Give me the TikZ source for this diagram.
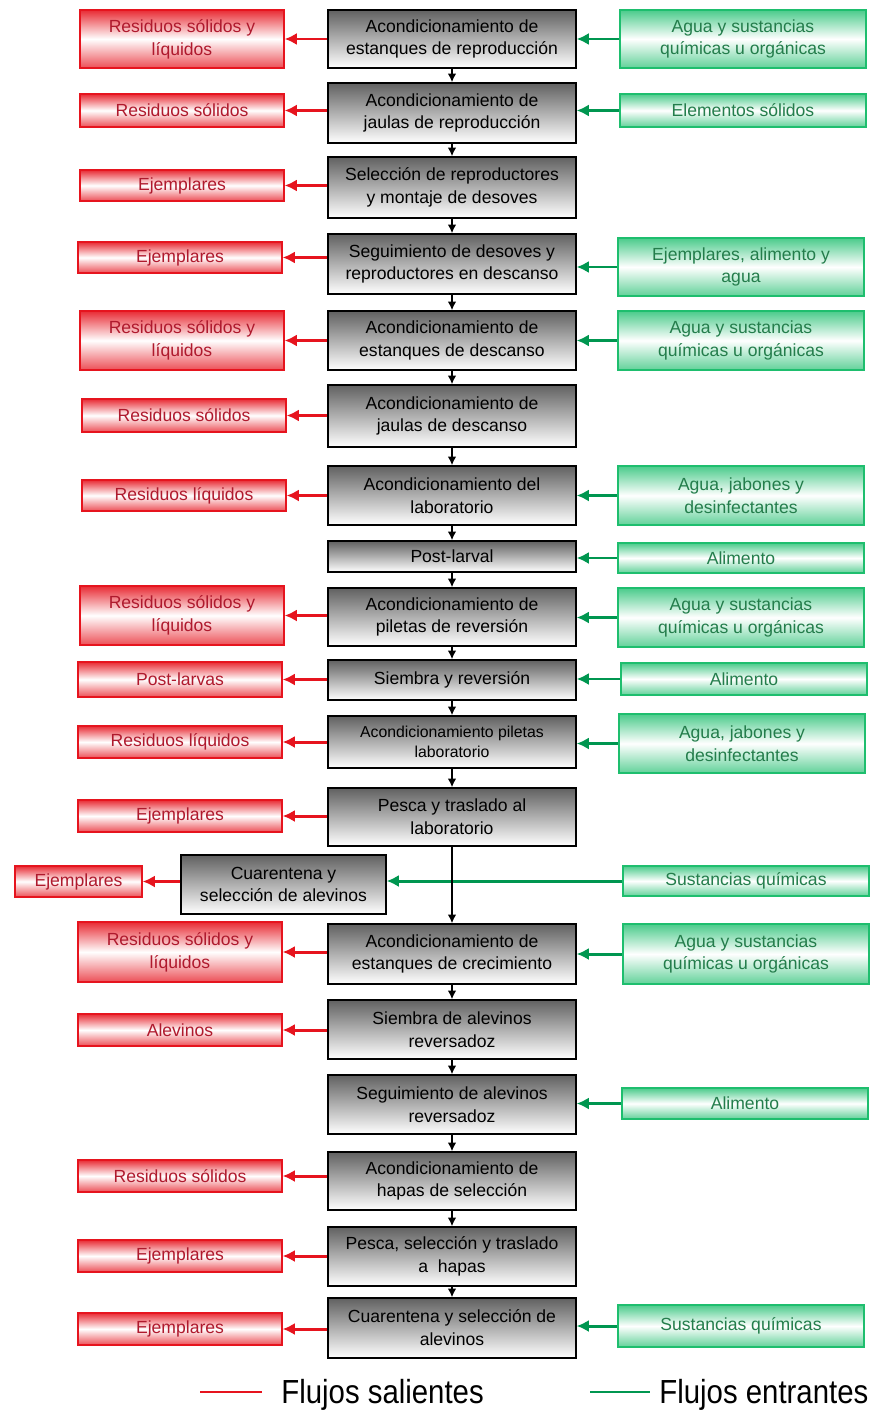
\documentclass[tikz,border=0pt]{standalone}
\usepackage{fontspec}
\setmainfont{Liberation Sans}
\usetikzlibrary{arrows.meta}

\definecolor{rojo}{RGB}{230,20,30}
\definecolor{rojotexto}{RGB}{175,25,45}
\definecolor{verde}{RGB}{30,190,110}
\definecolor{verdeflecha}{RGB}{0,150,80}
\definecolor{verdetexto}{RGB}{35,125,75}

\tikzset{
    proceso/.style={draw=black,line width=0.8pt,align=center,inner sep=1pt,
        minimum width=4.96cm,top color=black!62,bottom color=white,
        font=\fontsize{10}{13}\selectfont},
    salida/.style={draw=rojo,line width=0.8pt,align=center,inner sep=1pt,
        minimum width=4.08cm,top color=rojo!90,bottom color=rojo!75,middle color=white,
        text=rojotexto,font=\fontsize{10}{13}\selectfont},
    entrada/.style={draw=verde,line width=0.8pt,align=center,inner sep=1pt,
        minimum width=4.92cm,top color=verde!80,bottom color=verde!70,middle color=white,
        text=verdetexto,font=\fontsize{10}{13}\selectfont},
    baja/.style={-{Latex[length=5pt,width=5pt]},line width=1.2pt,black},
    sale/.style={-{Latex[length=7pt,width=7pt]},line width=1.7pt,rojo},
    entra/.style={-{Latex[length=7pt,width=7pt]},line width=1.7pt,verdeflecha},
    leyenda/.style={anchor=west,inner sep=0pt,font=\fontsize{19}{21}\selectfont},
}

\begin{document}
\begin{tikzpicture}[x=0.02cm,y=-0.02cm]
                \useasboundingbox (0,0) rectangle (874,1412);

                % columna central
                \node[proceso,minimum height=1.16cm] (p1) at (452,39) {Acondicionamiento de\\estanques de reproducción};
                \node[proceso,minimum height=1.2cm] (p2) at (452,113) {Acondicionamiento de\\jaulas de reproducción};
                \node[proceso,minimum height=1.22cm] (p3) at (452,187.5) {Selección de reproductores\\y montaje de desoves};
                \node[proceso,minimum height=1.2cm] (p4) at (452,264) {Seguimiento de desoves y\\reproductores en descanso};
                \node[proceso,minimum height=1.18cm] (p5) at (452,340.5) {Acondicionamiento de\\estanques de descanso};
                \node[proceso,minimum height=1.24cm] (p6) at (452,416) {Acondicionamiento de\\jaulas de descanso};
                \node[proceso,minimum height=1.18cm] (p7) at (452,495.5) {Acondicionamiento del\\laboratorio};
                \node[proceso,minimum height=0.62cm] (p8) at (452,556.5) {Post-larval};
                \node[proceso,minimum height=1.16cm] (p9) at (452,617) {Acondicionamiento de\\piletas de reversión};
                \node[proceso,minimum height=0.8cm] (p10) at (452,680) {Siembra y reversión};
                \node[proceso,minimum height=1.04cm,font=\fontsize{9}{11}\selectfont] (p11) at (452,742) {Acondicionamiento piletas\\laboratorio};
                \node[proceso,minimum height=1.16cm] (p12) at (452,817) {Pesca y traslado al\\laboratorio};
                \node[proceso,minimum height=1.18cm,minimum width=4.1cm] (p13) at (283.5,884.5) {Cuarentena y\\selección de alevinos};
                \node[proceso,minimum height=1.2cm] (p14) at (452,954) {Acondicionamiento de\\estanques de crecimiento};
                \node[proceso,minimum height=1.18cm] (p15) at (452,1029.5) {Siembra de alevinos\\reversadoz};
                \node[proceso,minimum height=1.18cm] (p16) at (452,1104.5) {Seguimiento de alevinos\\reversadoz};
                \node[proceso,minimum height=1.16cm] (p17) at (452,1181) {Acondicionamiento de\\hapas de selección};
                \node[proceso,minimum height=1.18cm] (p18) at (452,1256.5) {Pesca, selección y traslado\\a\ \ hapas};
                \node[proceso,minimum height=1.2cm] (p19) at (452,1328) {Cuarentena y selección de\\alevinos};

                % flujos salientes
                \node[salida,minimum height=1.16cm] (s1) at (182,39) {Residuos sólidos y\\líquidos};
                \node[salida,minimum height=0.66cm] (s2) at (182,110.5) {Residuos sólidos};
                \node[salida,minimum height=0.62cm] (s3) at (182,185.5) {Ejemplares};
                \node[salida,minimum height=0.62cm] (s4) at (180,257.5) {Ejemplares};
                \node[salida,minimum height=1.18cm] (s5) at (182,340.5) {Residuos sólidos y\\líquidos};
                \node[salida,minimum height=0.66cm] (s6) at (184,415.5) {Residuos sólidos};
                \node[salida,minimum height=0.62cm] (s7) at (184,495.5) {Residuos líquidos};
                \node[salida,minimum height=1.18cm] (s9) at (182,615.5) {Residuos sólidos y\\líquidos};
                \node[salida,minimum height=0.7cm] (s10) at (180,679.5) {Post-larvas};
                \node[salida,minimum height=0.64cm] (s11) at (180,742) {Residuos líquidos};
                \node[salida,minimum height=0.64cm] (s12) at (180,816) {Ejemplares};
                \node[salida,minimum height=0.62cm,minimum width=2.54cm] (s13) at (78.5,881.5) {Ejemplares};
                \node[salida,minimum height=1.2cm] (s14) at (180,952) {Residuos sólidos y\\líquidos};
                \node[salida,minimum height=0.64cm] (s15) at (180,1030) {Alevinos};
                \node[salida,minimum height=0.64cm] (s17) at (180,1176) {Residuos sólidos};
                \node[salida,minimum height=0.64cm] (s18) at (180,1256) {Ejemplares};
                \node[salida,minimum height=0.64cm] (s19) at (180,1329) {Ejemplares};

                % flujos entrantes
                \node[entrada,minimum height=1.16cm] (e1) at (743,39) {Agua y sustancias\\químicas u orgánicas};
                \node[entrada,minimum height=0.66cm] (e2) at (743,110.5) {Elementos sólidos};
                \node[entrada,minimum height=1.16cm] (e4) at (741,267) {Ejemplares, alimento y\\agua};
                \node[entrada,minimum height=1.18cm] (e5) at (741,340.5) {Agua y sustancias\\químicas u orgánicas};
                \node[entrada,minimum height=1.18cm] (e7) at (741,495.5) {Agua, jabones y\\desinfectantes};
                \node[entrada,minimum height=0.6cm] (e8) at (741,558) {Alimento};
                \node[entrada,minimum height=1.18cm] (e9) at (741,617.5) {Agua y sustancias\\químicas u orgánicas};
                \node[entrada,minimum height=0.64cm] (e10) at (744,679) {Alimento};
                \node[entrada,minimum height=1.18cm] (e11) at (742,743.5) {Agua, jabones y\\desinfectantes};
                \node[entrada,minimum height=0.6cm] (e13) at (746,881) {Sustancias químicas};
                \node[entrada,minimum height=1.2cm] (e14) at (746,954) {Agua y sustancias\\químicas u orgánicas};
                \node[entrada,minimum height=0.62cm] (e16) at (745,1103.5) {Alimento};
                \node[entrada,minimum height=0.84cm] (e19) at (741,1326) {Sustancias químicas};

                % flechas horizontales
                \foreach \n in {1,2,4,5,7,8,9,10,11,13,14,16,19}
                    \draw[entra] (e\n) -- (p\n.east |- e\n);

                \foreach \n in {1,2,3,4,5,6,7,9,10,11,12,13,14,15,17,18,19}
                    \draw[sale] (p\n.west |- s\n) -- (s\n);

                % secuencia del proceso
                \foreach \a/\b in {p1/p2,p2/p3,p3/p4,p4/p5,p5/p6,p6/p7,p7/p8,p8/p9,p9/p10,p10/p11,
                    p11/p12,p12/p14,p14/p15,p15/p16,p16/p17,p17/p18,p18/p19}
                    \draw[baja] (\a) -- (\b);

                % leyenda
                \coordinate (r1) at (200,1392);
                \coordinate (r2) at (262,1392);
                \coordinate (v1) at (590,1392);
                \coordinate (v2) at (650,1392);
                \draw[rojo,line width=1.3pt] (r1) -- (r2);
                \draw[verdeflecha,line width=1.3pt] (v1) -- (v2);
                \node[leyenda] (l1) at (281,1395) {\scalebox{0.88}[1]{Flujos salientes}};
                \node[leyenda] (l2) at (659,1395) {\scalebox{0.88}[1]{Flujos entrantes}};
            \end{tikzpicture}
\end{document}
